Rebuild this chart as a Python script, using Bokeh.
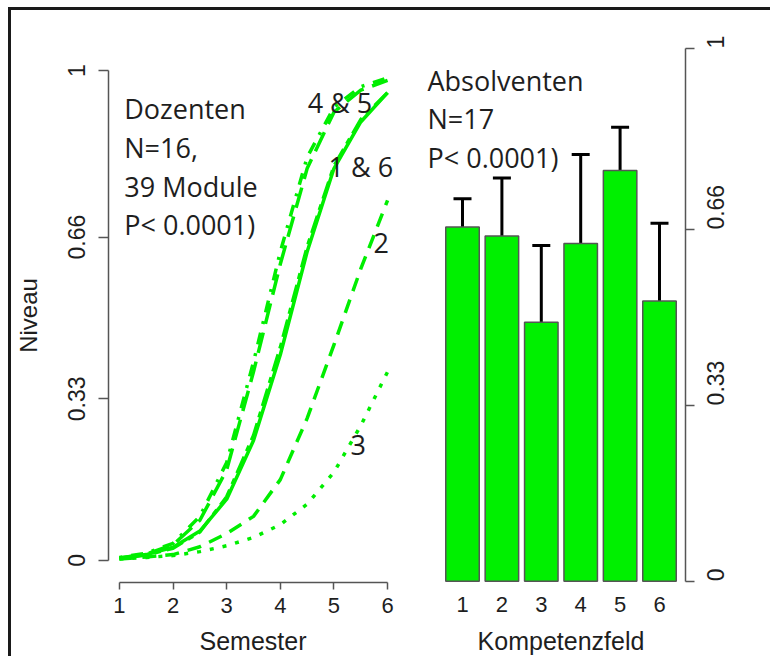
import math
from bokeh.plotting import figure
from bokeh.layouts import row, column
from bokeh.models import ColumnDataSource, FixedTicker, Whisker, TeeHead
from bokeh.core.properties import value
from bokeh.embed import file_html
from bokeh.resources import INLINE

# ---------------- data ----------------
semester = [1, 1.5, 2, 2.5, 3, 3.5, 4, 4.5, 5, 5.5, 6]
kf1 = [0.005, 0.012, 0.027, 0.060, 0.125, 0.245, 0.420, 0.630, 0.800, 0.895, 0.955]
kf2 = [0.003, 0.007, 0.012, 0.028, 0.055, 0.090, 0.165, 0.290, 0.440, 0.595, 0.735]
kf3 = [0.003, 0.006, 0.010, 0.018, 0.030, 0.047, 0.073, 0.115, 0.180, 0.275, 0.385]
kf4 = [0.006, 0.015, 0.035, 0.090, 0.200, 0.405, 0.630, 0.823, 0.925, 0.967, 0.985]
kf5 = [0.005, 0.013, 0.032, 0.082, 0.185, 0.385, 0.605, 0.800, 0.915, 0.960, 0.980]
kf6 = [0.004, 0.011, 0.025, 0.058, 0.130, 0.255, 0.435, 0.640, 0.805, 0.900, 0.955]
curves = [kf1, kf2, kf3, kf4, kf5, kf6]
curve_dash = ["solid", "14 9", "4 9", "3 9 12 9", "21 9", "6 6 18 6"]

semester_ticks = [1, 2, 3, 4, 5, 6]
niveau_ticks = [0, 0.33, 0.66, 1]
niveau_labels = ["0", "0.33", "0.66", "1"]

dozenten_text = ["Dozenten", "N=16,", "39 Module", "P< 0.0001)"]
curve_labels = ["4 & 5", "1 & 6", "2", "3"]
curve_label_x = [4.51, 4.90, 5.74, 5.31]
curve_label_y = [0.935, 0.804, 0.649, 0.235]

kompetenzfeld = [1, 2, 3, 4, 5, 6]
absolventen_mean = [0.665, 0.648, 0.486, 0.634, 0.771, 0.526]
absolventen_upper = [0.718, 0.757, 0.630, 0.801, 0.852, 0.672]
absolventen_lower = [0.603, 0.520, 0.346, 0.557, 0.664, 0.378]
absolventen_text = ["Absolventen", "N=17", "P< 0.0001)"]

x_title_left = "Semester"
x_title_right = "Kompetenzfeld"

GREEN = "#00ee00"
TXT = "#1e1e1e"
AX = "#555555"
TICKFONT = "Liberation Sans"
BIGFONT = "Open Sans"

H = 616      # main panels
HS = 30      # strip for x titles


def blank(p):
    p.grid.visible = False
    p.outline_line_color = None
    p.background_fill_color = "white"
    p.border_fill_color = "white"


# ---------------- left panel ----------------
p1 = figure(width=409, height=H, x_range=(0.796, 6.204), y_range=(-0.045, 1.045),
            output_backend="svg", toolbar_location=None,
            min_border_left=96, min_border_right=22, min_border_top=38, min_border_bottom=44)
blank(p1)

for ys, dash in zip(curves, curve_dash):
    p1.line(semester, ys, line_color=GREEN, line_width=3.5, line_dash=dash, line_join="round")

xa = p1.xaxis[0]
xa.ticker = FixedTicker(ticks=semester_ticks)
xa.bounds = (1, 6)
xa.major_tick_in = 0
xa.major_tick_out = 7
xa.minor_tick_out = 0
xa.minor_tick_in = 0
xa.axis_line_color = AX
xa.major_tick_line_color = AX
xa.axis_line_width = 1.5
xa.major_tick_line_width = 1.5
xa.major_label_text_font = TICKFONT
xa.major_label_text_font_size = "22px"
xa.major_label_text_color = TXT
xa.major_label_standoff = 8

ya = p1.yaxis[0]
ya.ticker = FixedTicker(ticks=niveau_ticks)
ya.major_label_overrides = {t: s for t, s in zip(niveau_ticks, niveau_labels)}
ya.bounds = (0, 1)
ya.major_tick_in = 0
ya.major_tick_out = 10
ya.minor_tick_out = 0
ya.minor_tick_in = 0
ya.axis_line_color = AX
ya.major_tick_line_color = AX
ya.axis_line_width = 1.5
ya.major_tick_line_width = 1.5
ya.major_label_orientation = "parallel"
ya.major_label_text_font = TICKFONT
ya.major_label_text_font_size = "23px"
ya.major_label_text_color = TXT
ya.major_label_standoff = 13
ya.axis_label = "Niveau"
ya.axis_label_text_font = TICKFONT
ya.axis_label_text_font_style = "normal"
ya.axis_label_text_font_size = "24px"
ya.axis_label_text_color = TXT
ya.axis_label_standoff = 24

line_step = 0.079
p1.text(x=[1.09] * len(dozenten_text),
        y=[0.922 - i * line_step for i in range(len(dozenten_text))],
        text=dozenten_text, text_font=value(BIGFONT), text_font_size="27px",
        text_color=TXT, text_baseline="alphabetic", text_align="left")
p1.text(x=curve_label_x, y=curve_label_y, text=curve_labels, text_font=value(BIGFONT),
        text_font_size="27px", text_color=TXT, text_baseline="alphabetic", text_align="left")

# ---------------- right panel ----------------
p2 = figure(width=350, height=H, x_range=(-0.066, 6.66), y_range=(-0.0025, 1.0),
            output_backend="svg", toolbar_location=None, y_axis_location="right",
            min_border_left=0, min_border_right=85, min_border_top=38, min_border_bottom=44)
blank(p2)

src = ColumnDataSource(dict(x=kompetenzfeld, top=absolventen_mean,
                            upper=absolventen_upper, lower=absolventen_lower))
p2.vbar(x="x", top="top", bottom=0, width=0.85, source=src,
        fill_color="#00f000", line_color="#555555", line_width=1.5)
p2.add_layout(Whisker(base="x", upper="upper", lower="lower", source=src,
                      line_color="black", line_width=3,
                      upper_head=TeeHead(size=18, line_width=3, line_color="black"),
                      lower_head=TeeHead(size=18, line_width=3, line_color="black")))

xb = p2.xaxis[0]
xb.ticker = FixedTicker(ticks=kompetenzfeld)
xb.axis_line_color = None
xb.major_tick_line_color = None
xb.minor_tick_line_color = None
xb.major_tick_in = 0
xb.major_tick_out = 0
xb.major_label_text_font = TICKFONT
xb.major_label_text_font_size = "22px"
xb.major_label_text_color = TXT
xb.major_label_standoff = 14

yb = p2.yaxis[0]
yb.ticker = FixedTicker(ticks=niveau_ticks)
yb.major_label_overrides = {t: s for t, s in zip(niveau_ticks, niveau_labels)}
yb.bounds = (0, 1)
yb.major_tick_in = 0
yb.major_tick_out = 9
yb.minor_tick_out = 0
yb.minor_tick_in = 0
yb.axis_line_color = AX
yb.major_tick_line_color = AX
yb.axis_line_width = 1.5
yb.major_tick_line_width = 1.5
yb.major_label_orientation = math.pi / 2
yb.major_label_text_font = TICKFONT
yb.major_label_text_font_size = "23px"
yb.major_label_text_color = TXT
yb.major_label_standoff = 21

line_step2 = 0.072
p2.text(x=[0.112] * len(absolventen_text),
        y=[0.940 - i * line_step2 for i in range(len(absolventen_text))],
        text=absolventen_text, text_font=value(BIGFONT), text_font_size="27px",
        text_color=TXT, text_baseline="alphabetic", text_align="left")

# ---------------- strips carrying the x titles ----------------
s1 = figure(width=409, height=HS, x_range=p1.x_range, y_range=(0, 1),
            output_backend="svg", toolbar_location=None, x_axis_type=None, y_axis_type=None,
            min_border_left=96, min_border_right=22, min_border_top=0, min_border_bottom=0)
blank(s1)
s1.text(x=[sum(semester_ticks) / len(semester_ticks)], y=[0.97], text=[x_title_left],
        text_font=value(TICKFONT), text_font_size="25px", text_color=TXT,
        text_align="center", text_baseline="top")

s2 = figure(width=350, height=HS, x_range=p2.x_range, y_range=(0, 1),
            output_backend="svg", toolbar_location=None, x_axis_type=None, y_axis_type=None,
            min_border_left=0, min_border_right=85, min_border_top=0, min_border_bottom=0)
blank(s2)
s2.text(x=[sum(kompetenzfeld) / len(kompetenzfeld)], y=[0.97], text=[x_title_right],
        text_font=value(TICKFONT), text_font_size="25px", text_color=TXT,
        text_align="center", text_baseline="top")

layout = column(row(p1, p2), row(s1, s2),
                styles={"border-top": "3px solid #1a1a1a", "border-left": "3px solid #1a1a1a",
                        "margin-left": "8px", "margin-top": "7px"})

open("out.html", "w").write(file_html(layout, INLINE))
